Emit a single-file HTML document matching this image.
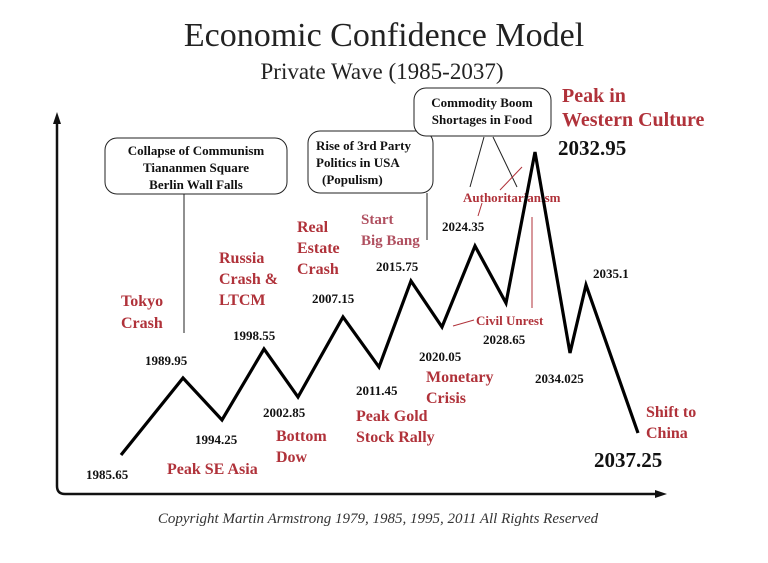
<!DOCTYPE html>
<html><head><meta charset="utf-8"><style>
body{margin:0;background:#fff}
svg{display:block}
text{font-family:"Liberation Serif",serif}
.r{fill:#b0323a;font-weight:bold;font-size:16px}
.k{fill:#111;font-weight:bold;font-size:13px}
.b{fill:#111;font-weight:bold;font-size:13px}
</style></head><body>
<svg width="768" height="563" viewBox="0 0 768 563">
<text x="384" y="46" text-anchor="middle" font-size="34" fill="#222">Economic Confidence Model</text>
<text x="382" y="79" text-anchor="middle" font-size="23" fill="#222">Private Wave (1985-2037)</text>
<path d="M57,122 V486 Q57,494 65,494 H657" fill="none" stroke="#111" stroke-width="2.5"/>
<polygon points="57,112 53,124 61,124" fill="#111"/>
<polygon points="667,494 655,490 655,498" fill="#111"/>
<rect x="105" y="138" width="182" height="56" rx="12" fill="#fff" stroke="#222"/>
<text class="b" x="196" y="155" text-anchor="middle">Collapse of Communism</text>
<text class="b" x="196" y="172" text-anchor="middle">Tiananmen Square</text>
<text class="b" x="196" y="189" text-anchor="middle">Berlin Wall Falls</text>
<line x1="184" y1="194" x2="184" y2="333" stroke="#222"/>
<rect x="308" y="131" width="125" height="62" rx="12" fill="#fff" stroke="#222"/>
<text class="b" x="316" y="150">Rise of 3rd Party</text>
<text class="b" x="316" y="167">Politics in USA</text>
<text class="b" x="322" y="184">(Populism)</text>
<line x1="427" y1="193" x2="427" y2="240" stroke="#222"/>
<rect x="414" y="88" width="137" height="48" rx="12" fill="#fff" stroke="#222"/>
<text class="b" x="482" y="107" text-anchor="middle">Commodity Boom</text>
<text class="b" x="482" y="124" text-anchor="middle">Shortages in Food</text>
<line x1="484" y1="137" x2="470" y2="187" stroke="#222"/>
<line x1="493" y1="137" x2="517" y2="187" stroke="#222"/>
<polyline points="522,167 500,190" fill="none" stroke="#b0323a"/>
<line x1="482" y1="203" x2="478" y2="216" stroke="#b0323a"/>
<line x1="532" y1="217" x2="532" y2="308" stroke="#b0323a"/>
<line x1="453" y1="326" x2="474" y2="320" stroke="#b0323a"/>
<text x="463" y="202" fill="#b0323a" font-weight="bold" font-size="13">Authoritarianism</text>
<text x="476" y="325" fill="#b0323a" font-weight="bold" font-size="13">Civil Unrest</text>
<polyline points="121,455 183,378 222,420 264,349 298,397 343,317 379,367 411,281 442,327 475,246 506,303 535,152 570,353 586,285 638,433" fill="none" stroke="#000" stroke-width="3.2" stroke-linejoin="miter"/>
<g class="k">
<text x="86" y="479">1985.65</text>
<text x="145" y="365">1989.95</text>
<text x="195" y="444">1994.25</text>
<text x="233" y="340">1998.55</text>
<text x="263" y="417">2002.85</text>
<text x="312" y="303">2007.15</text>
<text x="356" y="395">2011.45</text>
<text x="376" y="271">2015.75</text>
<text x="419" y="361">2020.05</text>
<text x="442" y="231">2024.35</text>
<text x="483" y="344">2028.65</text>
<text x="593" y="278">2035.1</text>
<text x="535" y="383">2034.025</text>
</g>
<text x="558" y="155" font-weight="bold" font-size="21" fill="#111">2032.95</text>
<text x="594" y="467" font-weight="bold" font-size="21" fill="#111">2037.25</text>
<g class="r">
<text x="167" y="474">Peak SE Asia</text>
<text x="276" y="441">Bottom</text><text x="276" y="462">Dow</text>
<text x="356" y="421">Peak Gold</text><text x="356" y="442">Stock Rally</text>
<text x="426" y="382">Monetary</text><text x="426" y="403">Crisis</text>
<text x="646" y="417">Shift to</text><text x="646" y="438">China</text>
<text x="121" y="306">Tokyo</text><text x="121" y="328">Crash</text>
<text x="219" y="263">Russia</text><text x="219" y="284">Crash &amp;</text><text x="219" y="305">LTCM</text>
<text x="297" y="232">Real</text><text x="297" y="253">Estate</text><text x="297" y="274">Crash</text>
</g>
<text x="361" y="224" fill="#b05060" font-weight="bold" font-size="15">Start</text>
<text x="361" y="245" fill="#b05060" font-weight="bold" font-size="15">Big Bang</text>
<text x="562" y="102" fill="#b0323a" font-weight="bold" font-size="20">Peak in</text>
<text x="562" y="126" fill="#b0323a" font-weight="bold" font-size="20">Western Culture</text>
<text x="378" y="523" text-anchor="middle" font-style="italic" font-size="15" fill="#333">Copyright Martin Armstrong 1979, 1985, 1995, 2011 All Rights Reserved</text>
</svg>
</body></html>
